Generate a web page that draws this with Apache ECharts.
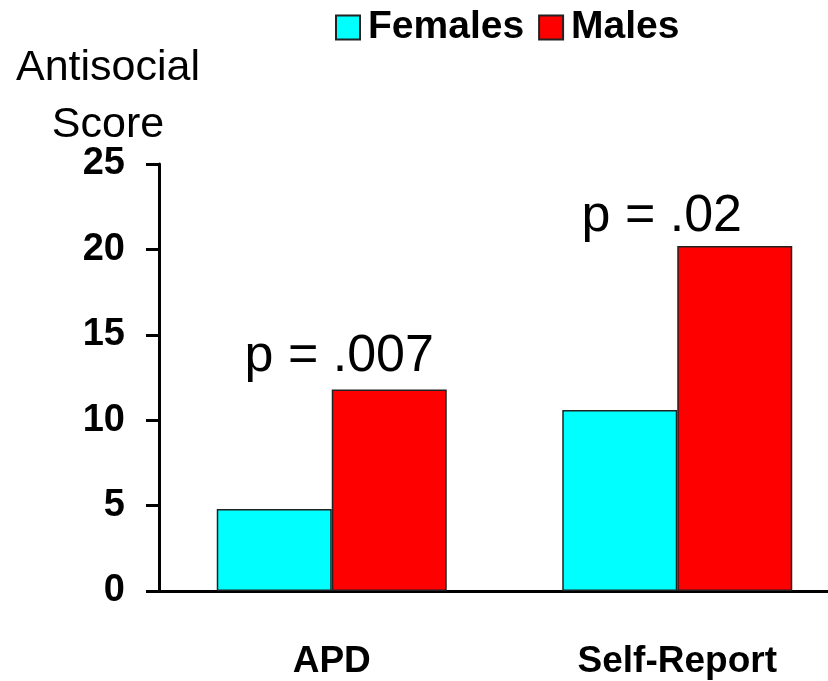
<!DOCTYPE html>
<html>
<head>
<meta charset="utf-8">
<script src="https://cdn.jsdelivr.net/npm/echarts@6/dist/echarts.min.js"></script>
<style>
  html, body { margin: 0; padding: 0; background: #fff; overflow: hidden; }
  /* the plot runs past the right edge of the page, so the canvas is wider than the window */
  #chart { width: 870px; height: 681px; }
</style>
</head>
<body>
<div id="chart"></div>
<script>
// Antisocial scores by sex for two measures
const categories = ['APD', 'Self-Report'];
const females = [4.8, 10.6];
const males = [11.8, 20.2];
const pLabels = ['p = .007', 'p = .02'];
const yTicks = [0, 5, 10, 15, 20, 25];

const FONT = '"Liberation Sans", Arial, Helvetica, sans-serif';

const chart = echarts.init(document.getElementById('chart'), null, { renderer: 'canvas' });

// significance labels sit above each Males bar, nudged toward the pair's middle
const labelOffsets = [[-50, -4], [-73, 0]];

chart.setOption({
  backgroundColor: '#ffffff',
  animation: false,
  legend: {
    left: 330,
    top: 3,
    icon: 'rect',
    itemWidth: 24,
    itemHeight: 24,
    itemGap: 14,
    textStyle: { fontFamily: FONT, fontWeight: 'bold', fontSize: 39, color: '#000', padding: [0, 0, 0, 3] },
    data: ['Females', 'Males']
  },
  grid: { left: 159, top: 164, width: 691, height: 427, containLabel: false },
  xAxis: {
    type: 'category',
    data: categories,
    axisLine: { lineStyle: { color: '#000', width: 3 } },
    axisTick: { show: false },
    axisLabel: { fontFamily: FONT, fontWeight: 'bold', fontSize: 37, color: '#000', margin: 52 },
    splitLine: { show: false }
  },
  yAxis: {
    type: 'value',
    min: yTicks[0],
    max: yTicks[yTicks.length - 1],
    interval: yTicks[1] - yTicks[0],
    name: 'Antisocial\nScore',
    nameLocation: 'end',
    nameGap: 67,
    nameMoveOverlap: false,
    nameTextStyle: {
      fontFamily: FONT, fontSize: 43, color: '#000', align: 'center',
      verticalAlign: 'middle', lineHeight: 57, padding: [0, 102, 0, 0]
    },
    axisLine: { show: true, lineStyle: { color: '#000', width: 3 } },
    axisTick: { show: true, length: 13, lineStyle: { color: '#000', width: 3 } },
    axisLabel: { fontFamily: FONT, fontWeight: 'bold', fontSize: 38, color: '#000', margin: 34 },
    splitLine: { show: false }
  },
  series: [
    {
      name: 'Females',
      type: 'bar',
      data: females,
      barWidth: 115,
      barGap: '0%',
      itemStyle: { color: '#00ffff', borderColor: '#222', borderWidth: 1.5 }
    },
    {
      name: 'Males',
      type: 'bar',
      data: males.map((v, i) => ({
        value: v,
        label: {
          show: true,
          position: 'top',
          distance: 3,
          offset: labelOffsets[i],
          formatter: () => pLabels[i],
          fontFamily: FONT,
          fontSize: 52,
          color: '#000'
        }
      })),
      barWidth: 115,
      barGap: '0%',
      itemStyle: { color: '#ff0000', borderColor: '#222', borderWidth: 1.5 }
    }
  ]
});
</script>
</body>
</html>
